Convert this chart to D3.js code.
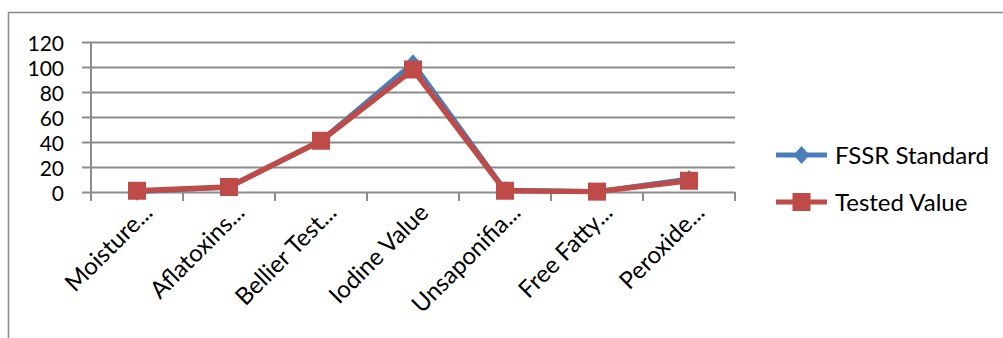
<!DOCTYPE html>
<html lang="en">
<head>
    <meta charset="UTF-8">
    <title>FSSR Standard vs Tested Value</title>
    <style>
        html, body {
            margin: 0;
            padding: 0;
            background: #fff;
        }
        svg {
            display: block;
            font-family: Lato, "Open Sans", sans-serif;
        }
    </style>
</head>
<body>
    <div id="chart-wrapper"></div>

    <script src="https://d3js.org/d3.v7.min.js"></script>
    <script>
        const categories = ['Moisture...', 'Aflatoxins...', 'Bellier Test...', 'Iodine Value',
            'Unsaponifia...', 'Free Fatty...', 'Peroxide...']
        const fssrStandard = [0.2, 4, 41, 103, 1.5, 0.2, 10.5]
        const testedValue = [1, 4, 41, 98, 1, 0.3, 9]
        const yTicks = [0, 20, 40, 60, 80, 100, 120]
        const seriesNames = ['FSSR Standard', 'Tested Value']

        const width = 1003
        const height = 338
        const margin = { top: 42, right: 268, bottom: 146, left: 91 }

        const svg = d3.select('#chart-wrapper')
            .append('svg')
            .attr('width', width)
            .attr('height', height)

        // outer chart frame (cropped at right and bottom in the source)
        svg.append('path')
            .attr('d', `M8.5,${height} V12.5 H${width}`)
            .attr('fill', 'none')
            .attr('stroke', '#8c8c8c')
            .attr('stroke-width', 1.5)

        const xScale = d3.scaleBand()
            .domain(categories)
            .range([margin.left, width - margin.right])

        const yScale = d3.scaleLinear()
            .domain([0, 120])
            .range([height - margin.bottom, margin.top])

        drawAxis()
        drawSeries(fssrStandard, '#4a7ebb', 'diamond')
        drawSeries(testedValue, '#be4b48', 'square')
        drawLegend()

        function drawAxis() {
            const yAxis = d3.axisLeft(yScale)
                .tickValues(yTicks)
                .tickSize(-(width - margin.right - margin.left))
                .tickPadding(27)
                .tickSizeOuter(0)

            const gy = svg.append('g')
                .attr('transform', `translate(${margin.left},0)`)
                .call(yAxis)
            gy.select('.domain').remove()
            gy.selectAll('.tick line')
                .attr('x1', -9)
                .attr('stroke', '#8c8c8c')
                .attr('stroke-width', 2)
            gy.selectAll('.tick text')
                .attr('font-size', 21)
                .attr('font-family', 'Lato, sans-serif')
                .attr('fill', '#000')
                .attr('dy', '0.4em')

            // vertical axis line
            svg.append('line')
                .attr('x1', margin.left).attr('x2', margin.left)
                .attr('y1', yScale(120)).attr('y2', yScale(0) + 9)
                .attr('stroke', '#8c8c8c')
                .attr('stroke-width', 2)

            // category boundary ticks
            const bounds = categories.map(c => xScale(c) + xScale.bandwidth())
            svg.append('g')
                .selectAll('line')
                .data(bounds)
                .join('line')
                .attr('x1', d => d).attr('x2', d => d)
                .attr('y1', yScale(0)).attr('y2', yScale(0) + 9)
                .attr('stroke', '#8c8c8c')
                .attr('stroke-width', 2)

            // category labels
            svg.append('g')
                .selectAll('text')
                .data(categories)
                .join('text')
                .attr('transform', d => `translate(${xScale(d) + xScale.bandwidth() / 2 + 17},${yScale(0) + 22}) rotate(-45)`)
                .attr('text-anchor', 'end')
                .attr('font-size', 24)
                .attr('fill', '#000')
                .text(d => d)
        }

        function drawSeries(values, color, shape) {
            const cx = i => xScale(categories[i]) + xScale.bandwidth() / 2
            const line = d3.line()
                .x((d, i) => cx(i))
                .y(d => yScale(d))

            const g = svg.append('g')
            g.append('path')
                .datum(values)
                .attr('fill', 'none')
                .attr('stroke', color)
                .attr('stroke-width', shape === 'square' ? 5.5 : 5)
                .attr('stroke-linejoin', 'round')
                .attr('d', line)

            drawMarkers(g, values.map((v, i) => [cx(i), yScale(v)]), color, shape)
        }

        function drawMarkers(g, points, color, shape) {
            if (shape === 'square') {
                g.selectAll('rect')
                    .data(points)
                    .join('rect')
                    .attr('x', d => d[0] - 9)
                    .attr('y', d => d[1] - 9)
                    .attr('width', 18)
                    .attr('height', 18)
                    .attr('fill', color)
            } else {
                g.selectAll('path.marker')
                    .data(points)
                    .join('path')
                    .attr('class', 'marker')
                    .attr('d', d => `M${d[0]},${d[1] - 9}L${d[0] + 8},${d[1]}L${d[0]},${d[1] + 9}L${d[0] - 8},${d[1]}Z`)
                    .attr('fill', color)
            }
        }

        function drawLegend() {
            const legend = svg.append('g')
                .attr('transform', 'translate(776,0)')
            const rows = [
                { name: seriesNames[0], color: '#4a7ebb', shape: 'diamond', y: 155 },
                { name: seriesNames[1], color: '#be4b48', shape: 'square', y: 202 }
            ]
            rows.forEach(r => {
                legend.append('line')
                    .attr('x1', 0).attr('x2', 51)
                    .attr('y1', r.y).attr('y2', r.y)
                    .attr('stroke', r.color)
                    .attr('stroke-width', 5)
                drawMarkers(legend.append('g'), [[25.5, r.y]], r.color, r.shape)
                legend.append('text')
                    .attr('x', 59)
                    .attr('y', r.y)
                    .attr('dy', '0.36em')
                    .attr('font-size', 24)
                    .attr('fill', '#000')
                    .text(r.name)
            })
        }
    </script>
</body>
</html>
